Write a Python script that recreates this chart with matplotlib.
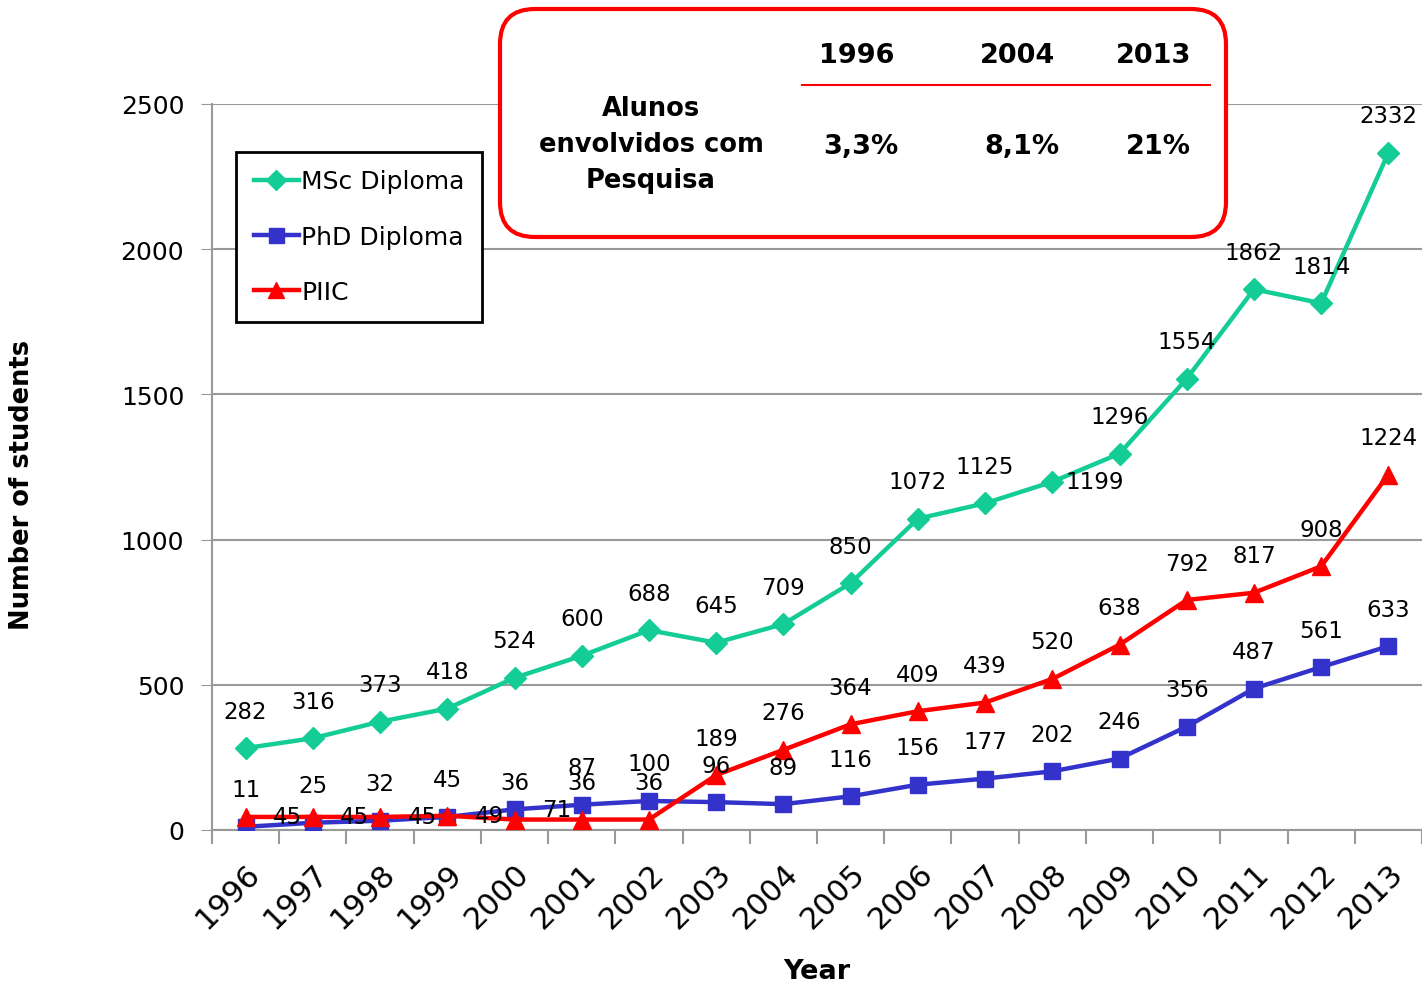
import matplotlib.pyplot as plt
from matplotlib.patches import FancyBboxPatch
from matplotlib.transforms import ScaledTranslation

years = [str(y) for y in range(1996, 2014)]
msc = [282, 316, 373, 418, 524, 600, 688, 645, 709, 850, 1072, 1125, 1199, 1296, 1554, 1862, 1814, 2332]
phd = [11, 25, 32, 45, 71, 87, 100, 96, 89, 116, 156, 177, 202, 246, 356, 487, 561, 633]
piic = [45, 45, 45, 49, 36, 36, 36, 189, 276, 364, 409, 439, 520, 638, 792, 817, 908, 1224]

tab_years = ['1996', '2004', '2013']
tab_vals = ['3,3%', '8,1%', '21%']
tab_label = 'Alunos\nenvolvidos com\nPesquisa'

# labels that sit to the right of the point instead of above it
right_labels = {'MSc Diploma': [12], 'PhD Diploma': [4], 'PIIC': [0, 1, 2, 3]}

c_msc = '#14CC96'
c_phd = '#3333CC'
c_piic = '#FF0000'

plt.rcParams['font.family'] = 'DejaVu Sans'
fig = plt.figure(figsize=(14.22, 9.87), dpi=100)
ax = fig.add_axes([212/1422, 1-831/987, 1-212/1422, (831-105)/987])

x = list(range(len(years)))
series = [('MSc Diploma', msc, c_msc, 'D', 11),
          ('PhD Diploma', phd, c_phd, 's', 12),
          ('PIIC', piic, c_piic, '^', 13)]
for name, vals, col, mk, ms in series:
    ax.plot(x, vals, color=col, lw=3.2, marker=mk, ms=ms, label=name, zorder=3)
    for i, v in enumerate(vals):
        if i in right_labels[name]:
            off = (42, 0)
        else:
            off = (0, 37)
        ax.annotate(str(v), (i, v), textcoords='offset pixels', xytext=off,
                    ha='center', va='center', fontsize=16.5, zorder=4)

ax.set_xlim(-0.5, len(years)-0.5)
ax.set_ylim(0, 2500)
ax.set_yticks([0, 500, 1000, 1500, 2000, 2500])
ax.tick_params(axis='y', labelsize=18, length=8, color='#999999', pad=12)
ax.set_xticks(x)
ax.set_xticklabels(years, rotation=45, ha='right', va='top', rotation_mode='anchor', fontsize=22)
shift = ScaledTranslation(-13/100, 0, fig.dpi_scale_trans)
for lab in ax.get_xticklabels():
    lab.set_transform(lab.get_transform() + shift)
ax.set_xticks([i+0.5 for i in range(-1, len(years))], minor=True)
ax.tick_params(axis='x', which='major', length=0, pad=20)
ax.tick_params(axis='x', which='minor', length=10, color='#999999', width=1.5)
ax.grid(axis='y', color='#999999', lw=1.5)
ax.set_axisbelow(True)
for s in ['top', 'right']:
    ax.spines[s].set_visible(False)
for s in ['left', 'bottom']:
    ax.spines[s].set_color('#999999')
    ax.spines[s].set_linewidth(1.5)

fig.text(817/1422, 1-972/987, 'Year', fontsize=19.5, fontweight='bold', ha='center', va='center')
fig.text(22/1422, 1-485/987, 'Number of students', rotation=90, fontsize=18.5,
         fontweight='bold', ha='center', va='center')

leg = fig.legend(loc='upper left', bbox_to_anchor=(236/1422, 1-153/987),
                 bbox_transform=fig.transFigure, borderaxespad=0, fontsize=18,
                 fancybox=False, edgecolor='black', framealpha=1, handlelength=1.8,
                 handletextpad=0.1, labelspacing=1.25, borderpad=0.7, markerscale=0.9)
leg.get_frame().set_linewidth(2)

# overlay in pixel coordinates for the info box
ov = fig.add_axes([0, 0, 1, 1])
ov.set_xlim(0, 1422)
ov.set_ylim(987, 0)
ov.axis('off')
ov.add_patch(FancyBboxPatch((500, 10), 726, 228, boxstyle='round,pad=0,rounding_size=35',
                            fc='white', ec='#FF0000', lw=3))
for xx, yy, vv in zip([857, 1018, 1154], tab_years, tab_vals):
    ov.text(xx, 56, yy, fontsize=19.5, fontweight='bold', ha='center', va='center')
    ov.text(xx + 4, 147, vv, fontsize=19.5, fontweight='bold', ha='center', va='center')
ov.plot([802, 1210], [86, 86], color='#FF0000', lw=1.5)
ov.text(651, 145, tab_label, fontsize=18.5, fontweight='bold', ha='center', va='center',
        linespacing=1.5)

plt.savefig('out.png', dpi=100)
